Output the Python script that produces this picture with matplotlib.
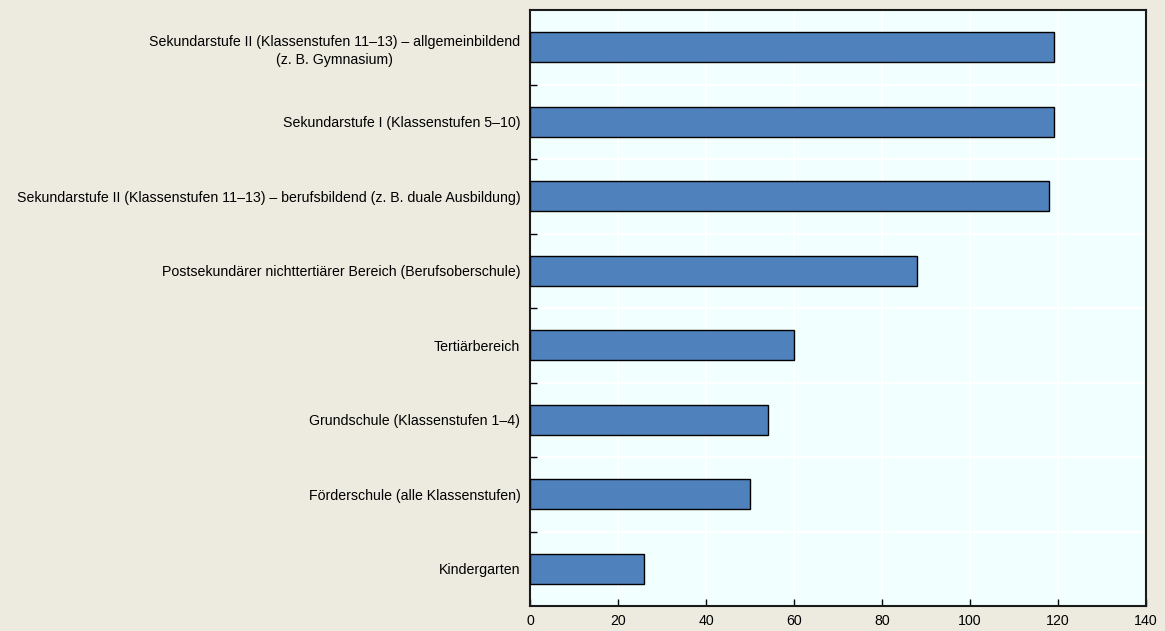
import numpy as np
import matplotlib
matplotlib.use("Agg")
from matplotlib import pyplot as plt

categories = [
    "Sekundarstufe II (Klassenstufen 11–13) – allgemeinbildend\n(z. B. Gymnasium)",
    "Sekundarstufe I (Klassenstufen 5–10)",
    "Sekundarstufe II (Klassenstufen 11–13) – berufsbildend (z. B. duale Ausbildung)",
    "Postsekundärer nichttertiärer Bereich (Berufsoberschule)",
    "Tertiärbereich",
    "Grundschule (Klassenstufen 1–4)",
    "Förderschule (alle Klassenstufen)",
    "Kindergarten",
]
values = [119, 119, 118, 88, 60, 54, 50, 26]
xticks = [0, 20, 40, 60, 80, 100, 120, 140]

plt.rcParams["font.family"] = ["Liberation Sans", "DejaVu Sans"]
plt.rcParams["font.size"] = 10.2

fig = plt.figure(figsize=(11.65, 6.31), dpi=100, facecolor="#EDEAE0")
ax = fig.add_axes([530/1165, 1-606/631, 616/1165, 596/631])
ax.set_facecolor("#F2FFFF")

y = np.arange(len(categories))
ax.barh(y, values, height=0.4, color="#4F81BD", edgecolor="black", linewidth=1, zorder=3)
ax.set_ylim(len(categories)-0.5, -0.5)
ax.set_xlim(0, 140)

ax.set_xticks(xticks)
ax.set_xticklabels([str(t) for t in xticks])
ax.set_yticks(y)
ax.set_yticklabels(categories, multialignment="center", linespacing=1.4)
ax.set_yticks(np.arange(0.5, len(categories)-0.5, 1), minor=True)

ax.tick_params(axis="y", which="major", length=0, pad=7)
ax.tick_params(axis="y", which="minor", length=5, direction="in", width=1)
ax.tick_params(axis="x", which="major", length=5, direction="in", width=1, pad=6)

ax.grid(axis="x", which="major", color="white", linewidth=1.5, zorder=0)
ax.grid(axis="y", which="minor", color="white", linewidth=1.5, zorder=0)
ax.set_axisbelow(True)

for s in ax.spines.values():
    s.set_linewidth(1.5)
    s.set_color("#1a1a1a")

fig.savefig("out.png", dpi=100, facecolor=fig.get_facecolor())
